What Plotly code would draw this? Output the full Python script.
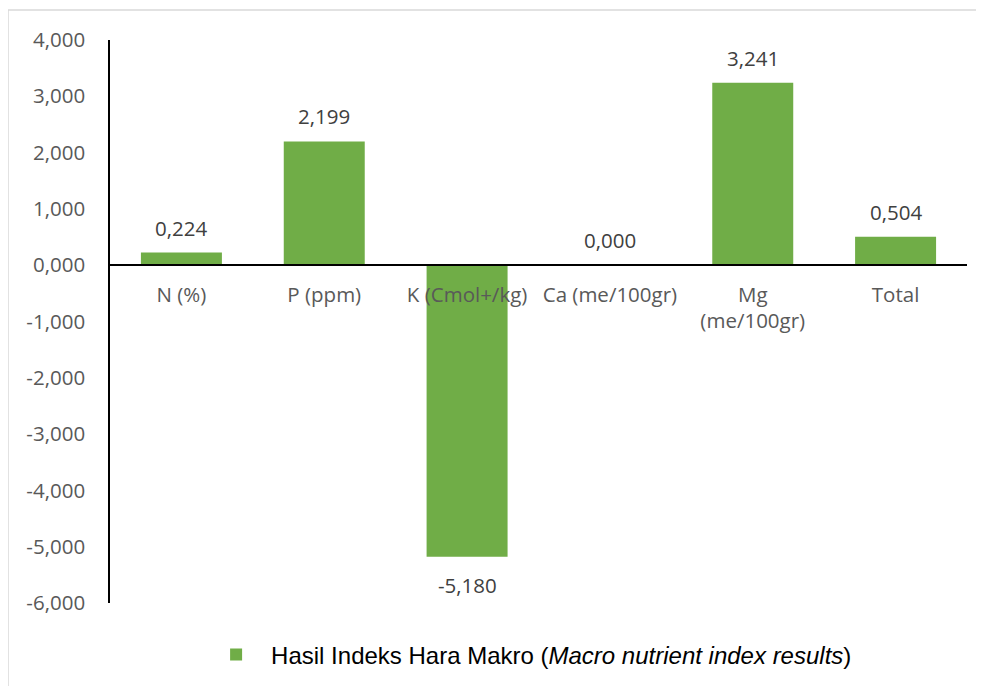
import plotly.graph_objects as go

categories = ["N (%)", "P (ppm)", "K (Cmol+/kg)", "Ca (me/100gr)", "Mg (me/100gr)", "Total"]
category_labels = ["N (%)", "P (ppm)", "K (Cmol+/kg)", "Ca (me/100gr)", "Mg<br>(me/100gr)", "Total"]
values = [0.224, 2.199, -5.180, 0.000, 3.241, 0.504]
y_ticks = [-6, -5, -4, -3, -2, -1, 0, 1, 2, 3, 4]
y_tick_labels = ["-6,000", "-5,000", "-4,000", "-3,000", "-2,000", "-1,000",
                 "0,000", "1,000", "2,000", "3,000", "4,000"]
series_name = "Hasil Indeks Hara Makro (<i>Macro nutrient index results</i>)"

GREEN = "#70AD47"
FONT = "Open Sans, Segoe UI, sans-serif"
FS = 20.5

L, T, PW, PH = 102, 32, 857, 563
W, H = 984, 686

fig = go.Figure()
fig.add_trace(go.Bar(
    x=categories, y=values, name=series_name,
    marker=dict(color=GREEN, line=dict(width=0)),
    showlegend=True,
))

for c, v in zip(categories, values):
    fig.add_annotation(
        x=c, y=v, text=f"{v:.3f}".replace(".", ","),
        showarrow=False, yshift=25 if v >= 0 else -28,
        font=dict(family=FONT, size=FS, color="#404040"),
    )

fig.update_layout(
    width=W, height=H,
    margin=dict(l=L, r=W - L - PW, t=T, b=H - T - PH),
    paper_bgcolor="white", plot_bgcolor="white",
    bargap=0.433,
    font=dict(family=FONT, size=FS, color="#595959"),
    xaxis=dict(
        type="category", tickmode="array", tickvals=categories, ticktext=category_labels,
        anchor="free", position=0.6, showline=True, linecolor="black", linewidth=2,
        ticks="", showgrid=False, zeroline=False,
        tickfont=dict(family=FONT, size=FS, color="#595959"),
        ticklabelstandoff=11,
    ),
    yaxis=dict(
        range=[-6, 4], tickmode="array", tickvals=y_ticks, ticktext=y_tick_labels,
        showline=True, linecolor="black", linewidth=1.5,
        ticks="", showgrid=False, zeroline=False,
        tickfont=dict(family=FONT, size=FS, color="#595959"),
        ticklabelstandoff=19,
    ),
    legend=dict(
        orientation="h", x=0.1063, xanchor="left", y=-0.0924, yanchor="middle",
        font=dict(family="Liberation Sans, Arial, sans-serif", size=24, color="black"),
        itemwidth=60,
    ),
    shapes=[dict(
        type="rect", xref="paper", yref="paper",
        x0=(0 - L) / PW, x1=1.2, y0=-0.3, y1=(T + PH - 2) / PH,
        line=dict(color="#d9d9d9", width=1.5), fillcolor="rgba(0,0,0,0)", layer="below",
    )],
)

fig.write_html("out.html")
